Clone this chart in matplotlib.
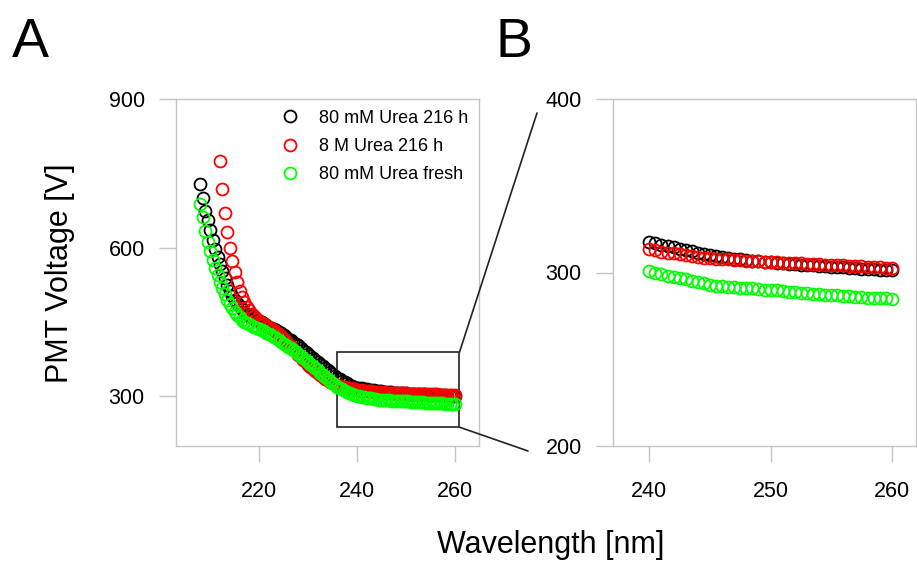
import numpy as np
import matplotlib
matplotlib.use("Agg")
import matplotlib.pyplot as plt
from matplotlib.patches import Rectangle, ConnectionPatch

plt.rcParams['font.family'] = ['Liberation Sans', 'DejaVu Sans']

# wavelength grids (0.5 nm steps)
wl_black = np.arange(208, 260.5, 0.5)
wl_red = np.arange(212, 260.5, 0.5)
wl_green = np.arange(208, 260.5, 0.5)

labels = ["80 mM Urea 216 h", "8 M Urea 216 h", "80 mM Urea fresh"]
colors = ["black", "#ff0000", "#00ff00"]

# 80 mM Urea 216 h
v_black = [728, 701, 675, 655, 635, 616, 597, 581, 567, 553,
           539, 525, 512, 503, 495, 488, 482, 476, 471, 467,
           463, 460, 457, 455, 453, 450, 447, 444, 441, 438,
           436, 433, 430, 427, 423, 420, 416, 413, 410, 406,
           403, 398, 394, 390, 386, 382, 378, 374, 370, 365,
           361, 357, 353, 349, 345, 341, 338, 335, 332, 329,
           327, 324, 321, 319, 317.5, 316.8, 316, 315.2, 314.5, 313.7,
           313, 312.2, 311.5, 310.7, 310, 309.5, 309, 308.5, 308, 307.6,
           307.2, 306.8, 306.5, 306.2, 306, 305.7, 305.4, 305.1, 304.9, 304.6,
           304.4, 304.1, 303.9, 303.6, 303.4, 303.1, 302.9, 302.6, 302.4, 302.2,
           302, 301.8, 301.6, 301.4, 301.3]

# 8 M Urea 216 h
v_red = [775, 718, 671, 632, 600, 574, 550, 530, 513, 500,
         490, 481, 474, 467, 462, 457, 452, 449, 446, 443,
         440, 437, 433, 429, 425, 421, 416, 411, 406, 401,
         395, 390, 384, 379, 374, 369, 364, 359, 355, 351,
         347, 343, 339, 336, 333, 330, 328, 326, 324, 322,
         320, 319, 318, 317, 316, 314.8, 313.5, 312.7, 312, 311.5,
         311, 310.5, 310, 309.5, 309, 308.6, 308.3, 308, 307.8, 307.5,
         307.3, 307, 306.8, 306.6, 306.4, 306.2, 306, 305.8, 305.7, 305.5,
         305.4, 305.2, 305.1, 304.9, 304.8, 304.6, 304.5, 304.3, 304.1, 303.9,
         303.7, 303.5, 303.4, 303.2, 303, 302.8, 302.7]

# 80 mM Urea fresh
v_green = [688, 661, 634, 612, 593, 576, 560, 545, 531, 518,
           506, 495, 486, 478, 471, 465, 460, 455, 451, 448,
           446, 443, 441, 438, 436, 433, 431, 428, 426, 423,
           420, 417, 413, 410, 406, 403, 400, 397, 393, 389,
           385, 381, 377, 373, 370, 366, 362, 358, 353, 348,
           343, 339, 335, 331, 327, 323, 320, 317, 314, 311,
           309, 307, 305, 303, 301, 300, 299, 298, 297.5, 296.8,
           296, 295.2, 294.5, 293.8, 293, 292.5, 292, 291.8, 291.5, 291.2,
           291, 290.8, 290.5, 290.2, 290, 289.8, 289.5, 289, 288.5, 288.2,
           288, 287.8, 287.5, 287.2, 287, 286.8, 286.5, 286.2, 286, 285.8,
           285.5, 285.5, 285.5, 285.2, 285]

series = [(wl_black, v_black), (wl_red, v_red), (wl_green, v_green)]
zoom_from = 240  # panel B shows the 240-260 nm part only

W, H = 917, 563
fig = plt.figure(figsize=(W / 100, H / 100), dpi=100)
axA = fig.add_axes([176 / W, 1 - 446 / H, 303 / W, 347 / H])
axB = fig.add_axes([613 / W, 1 - 446 / H, 303 / W, 347 / H])

frame = "#c4c4c4"
for ax in (axA, axB):
    for (x, y), c, lab in zip(series, colors, labels):
        x = np.asarray(x)
        y = np.asarray(y)
        if ax is axB:
            keep = x >= zoom_from
            x, y = x[keep], y[keep]
        ax.plot(x, y, 'o', mfc='none', mec=c, ms=8.6, mew=1.3, label=lab)
    for s in ax.spines.values():
        s.set_color(frame)
        s.set_linewidth(1.0)
    ax.tick_params(axis='y', direction='out', length=12.5, width=1.0,
                   color=frame, labelsize=15.5, pad=10)
    ax.tick_params(axis='x', direction='out', length=11.5, width=1.0,
                   color=frame, labelsize=15.5, pad=14)

axA.set_xlim(203, 265)
axA.set_ylim(200, 900)
axA.set_xticks([220, 240, 260])
axA.set_yticks([300, 600, 900])

axB.set_xlim(237, 262)
axB.set_ylim(200, 400)
axB.set_xticks([240, 250, 260])
axB.set_yticks([200, 300, 400])

axA.legend(loc='upper left', bbox_to_anchor=(0.33, 0.99), frameon=False,
           fontsize=13, handlelength=0.8, handletextpad=1.2,
           labelspacing=0.62, borderaxespad=0)

# zoom box and connector lines
axA.add_patch(Rectangle((236, 238), 25, 151, fill=False, ec="#222222", lw=1.2))
for ya, pt in [(389, (537, 113)), (238, (528, 451))]:
    con = ConnectionPatch(xyA=(261, ya), coordsA=axA.transData,
                          xyB=(pt[0] / W, 1 - pt[1] / H), coordsB=fig.transFigure,
                          color="#222222", lw=1.2)
    fig.add_artist(con)

fig.text(60 / W, 1 - 273 / H, "PMT Voltage [V]", rotation=90,
         ha='center', va='center', fontsize=22)
fig.text(551 / W, 1 - 545 / H, "Wavelength [nm]", ha='center', va='center', fontsize=22)
fig.text(12 / W, 1 - 57 / H, "A", fontsize=40, ha='left', va='baseline')
fig.text(495 / W, 1 - 57 / H, "B", fontsize=40, ha='left', va='baseline')

fig.savefig("out.png", dpi=100)
